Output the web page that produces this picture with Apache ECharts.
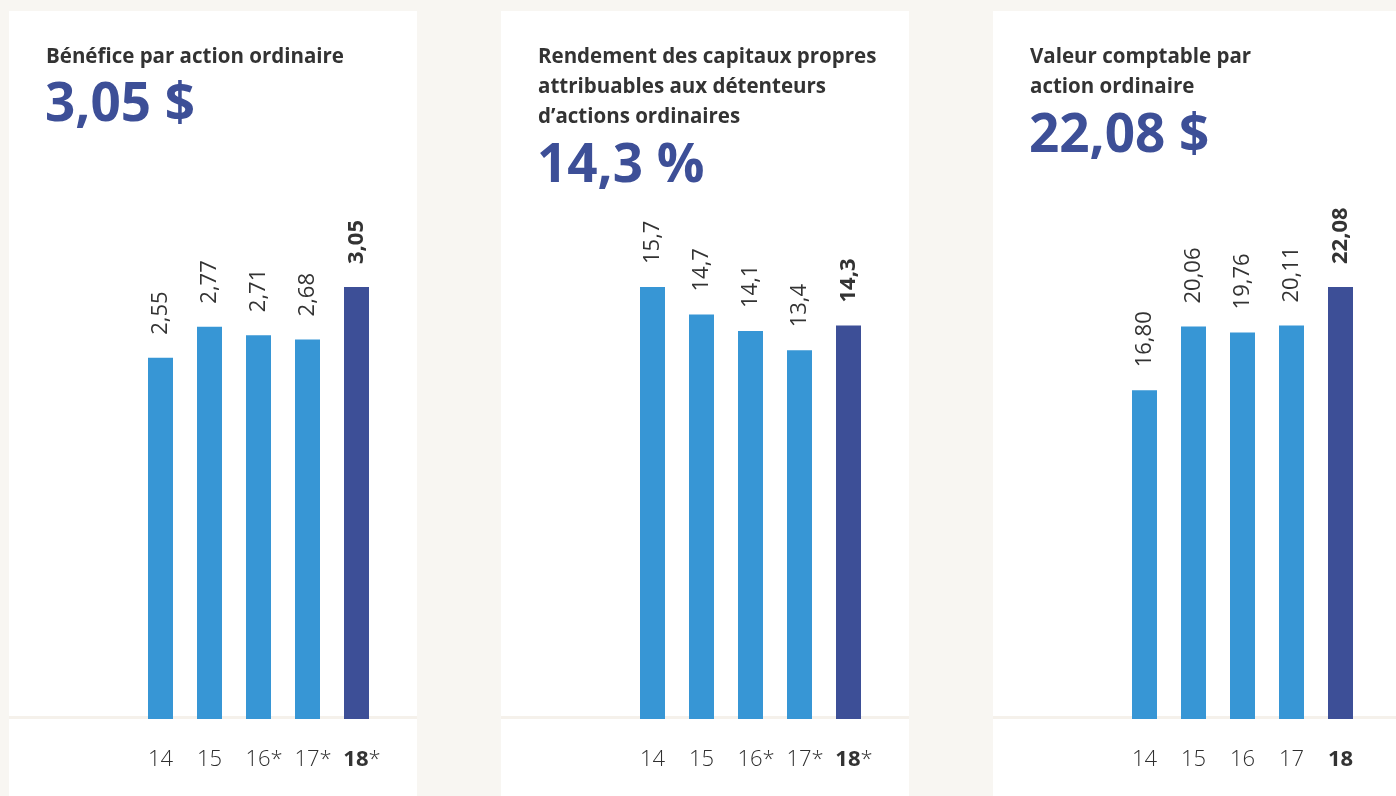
<!DOCTYPE html>
<html>
<head>
<meta charset="utf-8">
<script src="https://cdn.jsdelivr.net/npm/echarts@6/dist/echarts.min.js"></script>
<style>
  html, body { margin: 0; padding: 0; background: #f8f6f2; }
  #chart { width: 1396px; height: 796px; }
</style>
</head>
<body>
<div id="chart"></div>
<script>
// categories (years) and values per panel
var yearsStar = ['14', '15', '16*', '17*', '18*'];
var yearsPlain = ['14', '15', '16', '17', '18'];
var epsValues = [2.55, 2.77, 2.71, 2.68, 3.05];
var roeValues = [15.7, 14.7, 14.1, 13.4, 14.3];
var bookValues = [16.80, 20.06, 19.76, 20.11, 22.08];

var LIGHT = '#3796d5';
var NAVY = '#3d4f97';
var TEXT = '#333333';
var FONT = '"Open Sans", "Noto Sans", sans-serif';

function fr(v, d) { return v.toFixed(d).replace('.', ','); }

var panels = [
    { x: 9, title: 'Bénéfice par action ordinaire', head: fr(epsValues[4], 2) + ' $', headTop: 74,
      cats: yearsStar, data: epsValues, dec: 2, gridLeft: 136 },
    { x: 501, title: 'Rendement des capitaux propres\nattribuables aux détenteurs\nd\u2019actions ordinaires',
      head: fr(roeValues[4], 1) + ' %', headTop: 135, cats: yearsStar, data: roeValues, dec: 1, gridLeft: 628 },
    { x: 993, title: 'Valeur comptable par\naction ordinaire', head: fr(bookValues[4], 2) + ' $', headTop: 105,
      cats: yearsPlain, data: bookValues, dec: 2, gridLeft: 1120 }
];

var chart = echarts.init(document.getElementById('chart'));

var titles = [], grids = [], xAxes = [], yAxes = [], series = [], graphics = [];

panels.forEach(function (p, k) {
    // white card + light baseline
    graphics.push({ type: 'rect', shape: { x: p.x, y: 11, width: 408, height: 800 },
        style: { fill: '#ffffff' }, z: 0 });
    graphics.push({ type: 'rect', shape: { x: p.x, y: 716, width: 408, height: 3 },
        style: { fill: '#f5f1eb' }, z: 1 });

    titles.push({ text: p.title, left: p.x + 32, top: 37,
        textStyle: { fontFamily: FONT, fontSize: 20.5, fontWeight: 'bold', color: TEXT, lineHeight: 30 } });
    titles.push({ text: p.head, left: p.x + 31, top: p.headTop,
        textStyle: { fontFamily: FONT, fontSize: 53, fontWeight: 'bold', color: NAVY } });

    grids.push({ left: p.gridLeft, width: 245, top: 287, bottom: 77 });

    xAxes.push({
        type: 'category', gridIndex: k, data: p.cats,
        axisLine: { show: false }, axisTick: { show: false },
        axisLabel: {
            interval: 0, margin: 30, fontFamily: FONT, fontSize: 22, fontWeight: 300, color: '#2f2f2f',
            formatter: function (v, i) {
                // keep the year centred under its bar, asterisk hangs to the right
                var hasStar = v.indexOf('*') >= 0;
                var num = v.replace('*', '');
                var key = i === p.cats.length - 1 ? (hasStar ? 'bs' : 'b') : (hasStar ? 'ns' : 'n');
                return '{' + key + '|' + num + '}' + (hasStar ? '*' : '');
            },
            rich: {
                n: { fontFamily: FONT, fontSize: 22, fontWeight: 300, color: '#2f2f2f' },
                ns: { fontFamily: FONT, fontSize: 22, fontWeight: 300, color: '#2f2f2f', padding: [0, 0, 0, 11] },
                b: { fontFamily: FONT, fontSize: 22, fontWeight: 'bold', color: TEXT },
                bs: { fontFamily: FONT, fontSize: 22, fontWeight: 'bold', color: TEXT, padding: [0, 0, 0, 11] }
            }
        }
    });

    yAxes.push({ type: 'value', gridIndex: k, min: 0, max: function (e) { return e.max; }, show: false });

    series.push({
        type: 'bar', xAxisIndex: k, yAxisIndex: k, barWidth: 25,
        data: p.data.map(function (v, i) {
            var last = i === p.data.length - 1;
            return { value: v, itemStyle: { color: last ? NAVY : LIGHT },
                label: { fontWeight: last ? 'bold' : 'normal' } };
        }),
        label: {
            show: true, position: 'top', rotate: 90, align: 'left', verticalAlign: 'middle',
            distance: 23, fontFamily: FONT, fontSize: 22, color: TEXT,
            formatter: function (o) { return fr(o.value, p.dec); }
        },
        silent: true
    });
});

chart.setOption({
    backgroundColor: '#f8f6f2',
    animation: false,
    title: titles,
    graphic: graphics,
    grid: grids,
    xAxis: xAxes,
    yAxis: yAxes,
    series: series
});
</script>
</body>
</html>
